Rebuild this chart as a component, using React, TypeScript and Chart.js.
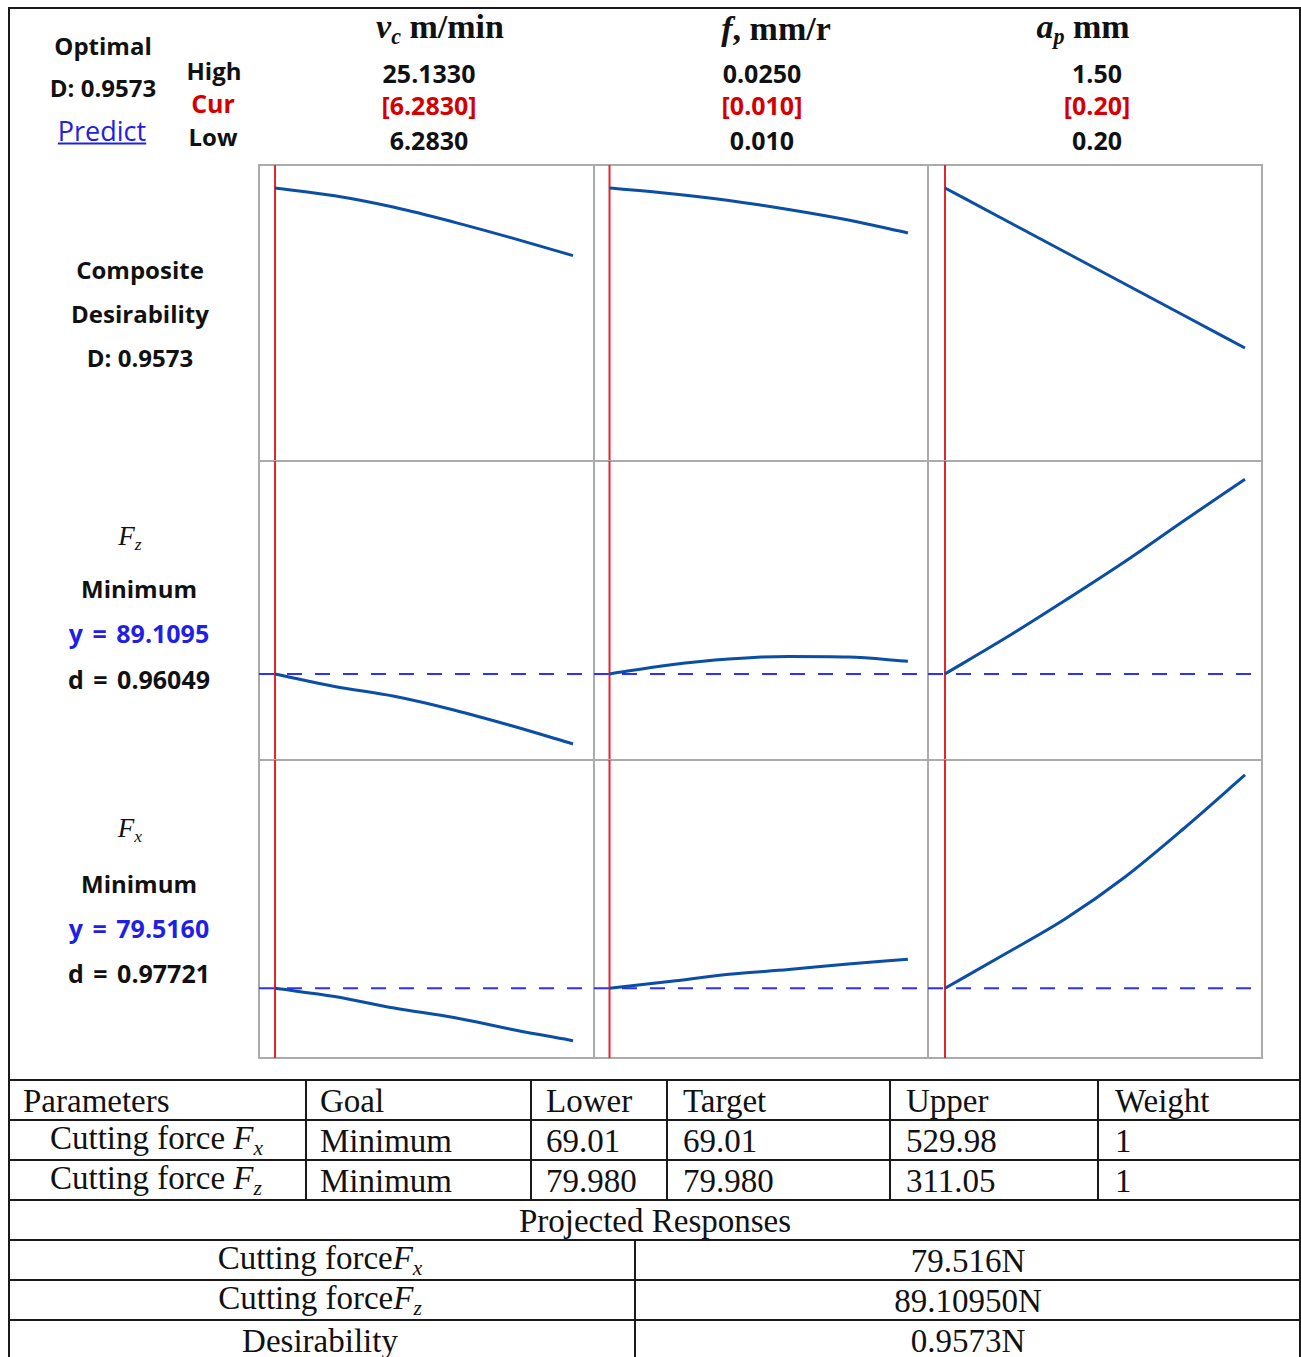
import { useEffect, useRef } from 'react';
import type { CSSProperties, ReactNode } from 'react';
import { Chart, registerables } from 'chart.js';

Chart.register(...registerables);

// factor levels (low -> high), current setting is the low level
const vcLevels = [6.283, 10.053, 13.823, 17.593, 21.363, 25.133];
const fLevels = [0.01, 0.013, 0.016, 0.019, 0.022, 0.025];
const apLevels = [0.2, 0.46, 0.72, 0.98, 1.24, 1.5];

// composite desirability
const desirabilityVc = [0.9573, 0.9428, 0.9214, 0.8939, 0.8636, 0.8315];
const desirabilityF = [0.9573, 0.9471, 0.9341, 0.9174, 0.8978, 0.8737];
const desirabilityAp = [0.9573, 0.8978, 0.8384, 0.7789, 0.7195, 0.66];

// Fz response
const fzVc = [89.11, 78.72, 70.62, 59.31, 45.84, 31.22];
const fzF = [89.11, 96.48, 101.44, 103.5, 103.09, 99.54];
const fzAp = [89.11, 118.5, 149.76, 181.98, 216.26, 249.89];

// Fx response
const fxVc = [79.52, 71.79, 60.98, 52.05, 40.59, 30.26];
const fxF = [79.52, 85.88, 92.64, 97.15, 102.32, 106.74];
const fxAp = [79.52, 111.72, 144.6, 184.07, 230.58, 279.91];

const fzTarget = 89.1095;
const fxTarget = 79.516;

// axis ranges
const vcRange = [5.27, 26.46];
const fRange = [0.00922, 0.02601];
const apRange = [0.1263, 1.5737];
const desirabilityRange = [0.45, 1.0];
const fzRange = [18, 265];
const fxRange = [14, 294];

const colX = [259, 594, 928, 1262];
const rowY = [165, 461, 760, 1058];

interface CellProps {
  levels: number[];
  values: number[];
  xRange: number[];
  yRange: number[];
  target?: number;
  left: number;
  top: number;
  width: number;
  height: number;
}

function Cell({ levels, values, xRange, yRange, target, left, top, width, height }: CellProps) {
  const chartRef = useRef<HTMLCanvasElement>(null);

  useEffect(() => {
    const context = chartRef.current?.getContext('2d');
    if (!context) return undefined;

    const curve = levels.map((x, i) => ({ x, y: values[i] }));
    const datasets: any[] = [
      {
        data: curve,
        borderColor: '#0a4ea5',
        borderWidth: 3,
        tension: 0.4,
        cubicInterpolationMode: 'monotone',
        pointRadius: 0,
      },
      {
        data: [
          { x: levels[0], y: yRange[0] },
          { x: levels[0], y: yRange[1] },
        ],
        borderColor: '#e8242b',
        borderWidth: 2,
        pointRadius: 0,
      },
    ];
    if (target !== undefined) {
      datasets.push({
        data: [
          { x: xRange[0], y: target },
          { x: xRange[1], y: target },
        ],
        borderColor: '#2f2fff',
        borderWidth: 2,
        borderDash: [15, 13],
        pointRadius: 0,
      });
    }

    const chartInstance = new Chart(context, {
      type: 'line',
      data: { datasets },
      options: {
        animation: false,
        responsive: true,
        maintainAspectRatio: false,
        layout: { padding: 0 },
        plugins: {
          legend: { display: false },
          tooltip: { enabled: false },
        },
        scales: {
          x: { type: 'linear', min: xRange[0], max: xRange[1], display: false },
          y: { type: 'linear', min: yRange[0], max: yRange[1], display: false },
        },
      },
    });

    return () => {
      chartInstance.destroy();
    };
  }, [levels, values, xRange, yRange, target]);

  return (
    <>
      <div
        style={{
          position: 'absolute',
          left: left - 1,
          top: top - 1,
          width: width + 2,
          height: height + 2,
          border: '2px solid #ababab',
          boxSizing: 'border-box',
        }}
      />
      <div style={{ position: 'absolute', left, top, width, height }}>
        <canvas ref={chartRef}></canvas>
      </div>
    </>
  );
}

function Txt({
  x,
  y,
  children,
  style,
  align = 'center',
}: {
  x: number;
  y: number;
  children: ReactNode;
  style?: CSSProperties;
  align?: 'center' | 'left';
}) {
  return (
    <div
      style={{
        position: 'absolute',
        left: x,
        top: y,
        transform: align === 'center' ? 'translate(-50%, -50%)' : 'translate(0, -50%)',
        whiteSpace: 'nowrap',
        lineHeight: 1,
        ...style,
      }}
    >
      {children}
    </div>
  );
}

const sans: CSSProperties = { fontFamily: '"Open Sans", sans-serif', fontWeight: 700, fontSize: 24, color: '#111' };
const num: CSSProperties = { ...sans, fontSize: 25 };
const eq: CSSProperties = { ...sans, fontSize: 25, wordSpacing: 3 };
const blue: CSSProperties = { ...eq, color: '#1f1fe6' };
const red: CSSProperties = { ...num, color: '#d40000' };
const head: CSSProperties = { fontFamily: '"Liberation Serif", serif', fontWeight: 700, fontSize: 34, color: '#111' };
const serif: CSSProperties = { fontFamily: '"Liberation Serif", serif', fontSize: 33, color: '#111' };
const ital: CSSProperties = { fontStyle: 'italic' };
const sub: CSSProperties = { fontStyle: 'italic', fontSize: '0.65em', verticalAlign: '-0.3em' };

function F({ s }: { s: string }) {
  return (
    <span>
      <span style={ital}>F</span>
      <span style={sub}>{s}</span>
    </span>
  );
}

function HLine({ y, x1 = 8, x2 = 1301 }: { y: number; x1?: number; x2?: number }) {
  return <div style={{ position: 'absolute', left: x1, top: y - 1, width: x2 - x1, height: 2, background: '#1a1a1a' }} />;
}

function VLine({ x, y1, y2 }: { x: number; y1: number; y2: number }) {
  return <div style={{ position: 'absolute', left: x - 1, top: y1, width: 2, height: y2 - y1, background: '#1a1a1a' }} />;
}

const factorLevels = [vcLevels, fLevels, apLevels];
const factorRanges = [vcRange, fRange, apRange];
const responseRows = [
  { values: [desirabilityVc, desirabilityF, desirabilityAp], range: desirabilityRange, target: undefined },
  { values: [fzVc, fzF, fzAp], range: fzRange, target: fzTarget },
  { values: [fxVc, fxF, fxAp], range: fxRange, target: fxTarget },
];

const tableCols = [23, 320, 546, 683, 906, 1115];
const paramHeader = ['Parameters', 'Goal', 'Lower', 'Target', 'Upper', 'Weight'];
const paramFx = ['Minimum', '69.01', '69.01', '529.98', '1'];
const paramFz = ['Minimum', '79.980', '79.980', '311.05', '1'];

export default function App() {
  return (
    <div style={{ position: 'relative', width: 1301, height: 1357, background: '#fff', overflow: 'hidden' }}>
      <style>{'body{margin:0}'}</style>

      {/* frame */}
      <HLine y={8} x1={8} x2={1301} />
      <VLine x={9} y1={7} y2={1357} />
      <VLine x={1300} y1={7} y2={1357} />

      {/* header */}
      <Txt x={103} y={46} style={sans}>Optimal</Txt>
      <Txt x={103} y={88} style={sans}>D: 0.9573</Txt>
      <Txt
        x={102}
        y={130}
        style={{ fontFamily: '"Open Sans", sans-serif', fontSize: 27, color: '#2222dd', textDecoration: 'underline' }}
      >
        Predict
      </Txt>
      <Txt x={214} y={71} style={sans}>High</Txt>
      <Txt x={213} y={103} style={red}>Cur</Txt>
      <Txt x={213} y={137} style={sans}>Low</Txt>

      <Txt x={440} y={29} style={head}>
        <span style={ital}>v</span>
        <span style={sub}>c</span> m/min
      </Txt>
      <Txt x={776} y={29} style={head}>
        <span style={ital}>f</span>, mm/r
      </Txt>
      <Txt x={1083} y={29} style={head}>
        <span style={ital}>a</span>
        <span style={sub}>p</span> mm
      </Txt>

      <Txt x={429} y={73} style={num}>25.1330</Txt>
      <Txt x={429} y={105} style={red}>[6.2830]</Txt>
      <Txt x={429} y={140} style={num}>6.2830</Txt>
      <Txt x={762} y={73} style={num}>0.0250</Txt>
      <Txt x={762} y={105} style={red}>[0.010]</Txt>
      <Txt x={762} y={140} style={num}>0.010</Txt>
      <Txt x={1097} y={73} style={num}>1.50</Txt>
      <Txt x={1097} y={105} style={red}>[0.20]</Txt>
      <Txt x={1097} y={140} style={num}>0.20</Txt>

      {/* row labels */}
      <Txt x={140} y={270} style={sans}>Composite</Txt>
      <Txt x={140} y={314} style={sans}>Desirability</Txt>
      <Txt x={140} y={358} style={sans}>D: 0.9573</Txt>

      <Txt x={130} y={538} style={{ fontFamily: '"Liberation Serif", serif', fontSize: 27, color: '#111' }}>
        <F s="z" />
      </Txt>
      <Txt x={139} y={589} style={sans}>Minimum</Txt>
      <Txt x={139} y={633} style={blue}>y = 89.1095</Txt>
      <Txt x={139} y={679} style={eq}>d = 0.96049</Txt>

      <Txt x={130} y={830} style={{ fontFamily: '"Liberation Serif", serif', fontSize: 27, color: '#111' }}>
        <F s="x" />
      </Txt>
      <Txt x={139} y={884} style={sans}>Minimum</Txt>
      <Txt x={139} y={928} style={blue}>y = 79.5160</Txt>
      <Txt x={139} y={973} style={eq}>d = 0.97721</Txt>

      {/* chart grid */}
      {responseRows.map((row, r) =>
        factorLevels.map((levels, c) => (
          <Cell
            key={`${r}-${c}`}
            levels={levels}
            values={row.values[c]}
            xRange={factorRanges[c]}
            yRange={row.range}
            target={row.target}
            left={colX[c]}
            top={rowY[r]}
            width={colX[c + 1] - colX[c]}
            height={rowY[r + 1] - rowY[r]}
          />
        )),
      )}

      {/* table */}
      {[1080, 1120, 1160, 1200, 1240, 1280, 1320].map((y) => (
        <HLine key={y} y={y} />
      ))}
      {[306, 531, 667, 890, 1098].map((x) => (
        <VLine key={x} x={x} y1={1080} y2={1200} />
      ))}
      <VLine x={635} y1={1240} y2={1357} />

      {paramHeader.map((t, i) => (
        <Txt key={t} x={tableCols[i]} y={1101} align="left" style={serif}>
          {t}
        </Txt>
      ))}
      <Txt x={50} y={1141} align="left" style={serif}>
        Cutting force <F s="x" />
      </Txt>
      {paramFx.map((t, i) => (
        <Txt key={`fx${i}`} x={tableCols[i + 1]} y={1141} align="left" style={serif}>
          {t}
        </Txt>
      ))}
      <Txt x={50} y={1181} align="left" style={serif}>
        Cutting force <F s="z" />
      </Txt>
      {paramFz.map((t, i) => (
        <Txt key={`fz${i}`} x={tableCols[i + 1]} y={1181} align="left" style={serif}>
          {t}
        </Txt>
      ))}

      <Txt x={655} y={1221} style={serif}>Projected Responses</Txt>
      <Txt x={320} y={1261} style={serif}>
        Cutting force<F s="x" />
      </Txt>
      <Txt x={968} y={1261} style={serif}>79.516N</Txt>
      <Txt x={320} y={1301} style={serif}>
        Cutting force<F s="z" />
      </Txt>
      <Txt x={968} y={1301} style={serif}>89.10950N</Txt>
      <Txt x={320} y={1341} style={serif}>Desirability</Txt>
      <Txt x={968} y={1341} style={serif}>0.9573N</Txt>
    </div>
  );
}
